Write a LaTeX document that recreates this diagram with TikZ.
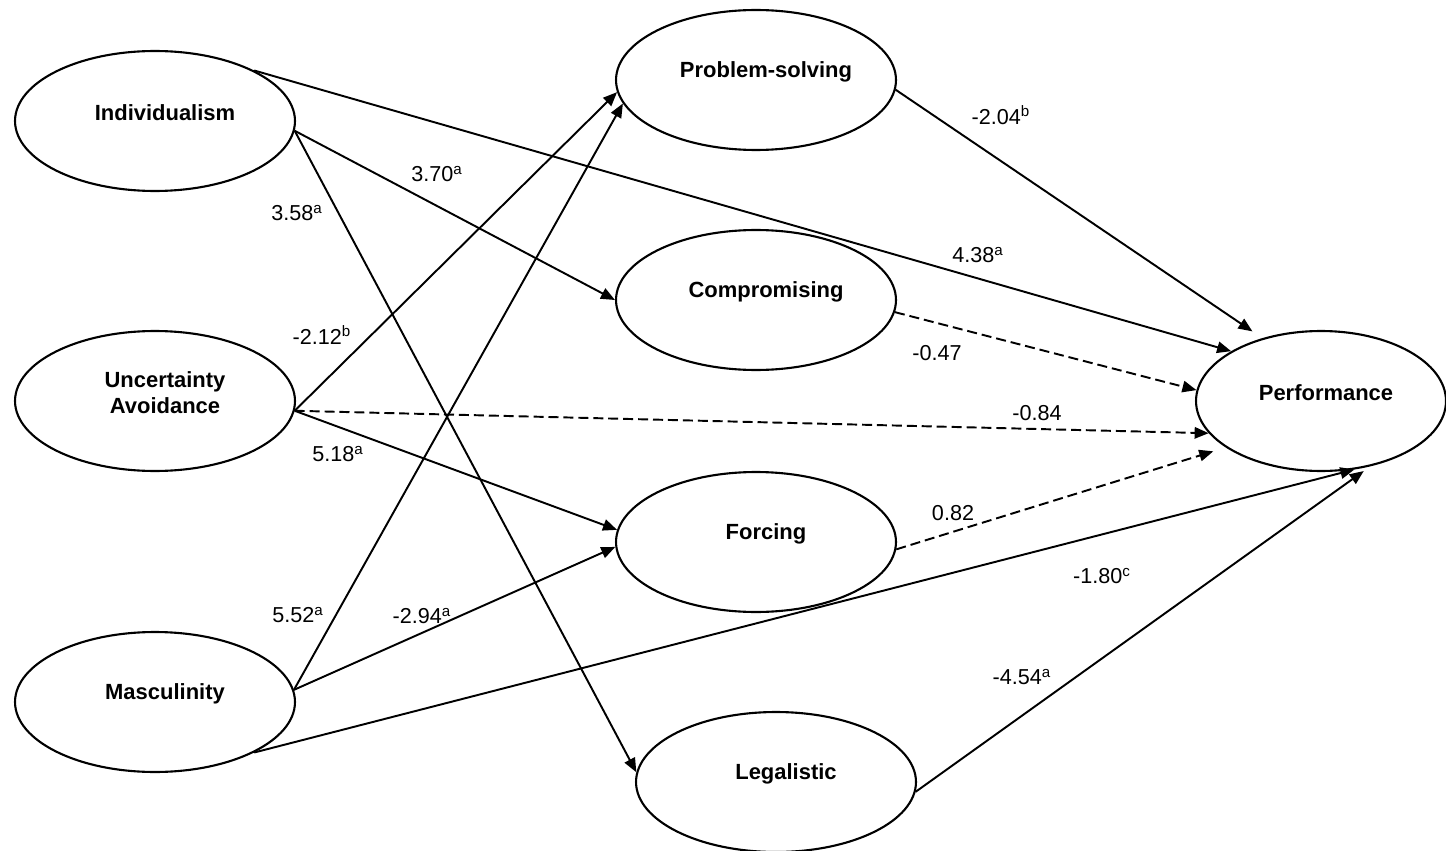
\documentclass[tikz,border=0pt]{standalone}
\usepackage{fontspec}
\setmainfont{Liberation Sans}
\usepackage{tikz}
\usetikzlibrary{arrows.meta, positioning, shapes.geometric}

\begin{document}
\begin{tikzpicture}[x=0.02cm, y=-0.02cm,
    latent/.style={draw, ellipse, line width=1.2pt, minimum width=5.6cm, minimum height=2.8cm},
    vname/.style={inner sep=0pt, align=center, font=\fontsize{12.5}{14.7}\selectfont\bfseries},
    arr/.style={line width=1.1pt, -{Triangle[length=8pt, width=6.5pt]}},
    nsarr/.style={arr, dash pattern=on 5.7pt off 2.8pt},
    coef/.style={inner sep=0pt, font=\fontsize{12.3}{14}\selectfont}]
    \useasboundingbox (0,0) rectangle (1446,851);
    % 潜变量
    \foreach \nm/\cx/\cy/\txt in {ind/155/121/Individualism, ua/155/401/{Uncertainty\\Avoidance},
        masc/155/702/Masculinity, ps/756/80/Problem-solving, comp/756/300/Compromising,
        forc/756/542/Forcing, leg/776/782/Legalistic} {
        \node[latent] (\nm) at (\cx,\cy) {};
        \node[vname] (\nm t) at ([shift={(10,-8)}]\nm.center) {\txt};
    }
    \node[latent, minimum width=5cm] (perf) at (1321,401) {};
    \node[vname] (perft) at ([shift={(5,-8)}]perf.center) {Performance};
    % 路径(虚线为不显著)
    \draw[arr] (ind.27) -- (perf.151);
    \draw[arr] (ind.-4) -- (comp.180);
    \draw[arr] (ind.-4) -- (leg.176);
    \draw[arr] (ua.-4) -- (ps.185);
    \draw[nsarr] (ua.-4) -- (perf.196);
    \draw[arr] (ua.-4) -- (forc.175);
    \draw[arr] (masc.5) -- (ps.190);
    \draw[arr] (masc.5) -- (forc.182);
    \draw[arr] (masc.-27) -- (perf.-64);
    \draw[arr, shorten >=0.24cm] (ps.-4) -- (perf.133);
    \draw[nsarr] (comp.-5) -- (perf.175);
    \draw[nsarr, shorten >=0.26cm] (forc.-3) -- (perf.206);
    \draw[arr, shorten >=0.16cm] (leg.-4) -- (perf.-53);
    % 系数
    \node[coef] (k1) at (297,213) {3.58\textsuperscript{a}};
    \node[coef] (k2) at (437,174) {3.70\textsuperscript{a}};
    \node[coef] (k3) at (978,255) {4.38\textsuperscript{a}};
    \node[coef] (k4) at (1001,115) {-2.04\textsuperscript{b}};
    \node[coef] (k5) at (322,335) {-2.12\textsuperscript{b}};
    \node[coef] (k6) at (937,353) {-0.47};
    \node[coef] (k7) at (1037,413) {-0.84};
    \node[coef] (k8) at (338,454) {5.18\textsuperscript{a}};
    \node[coef] (k9) at (953,513) {0.82};
    \node[coef] (k10) at (1102,576) {-1.80\textsuperscript{c}};
    \node[coef] (k11) at (298,615) {5.52\textsuperscript{a}};
    \node[coef] (k12) at (422,616) {-2.94\textsuperscript{a}};
    \node[coef] (k13) at (1022,677) {-4.54\textsuperscript{a}};
\end{tikzpicture}
\end{document}
